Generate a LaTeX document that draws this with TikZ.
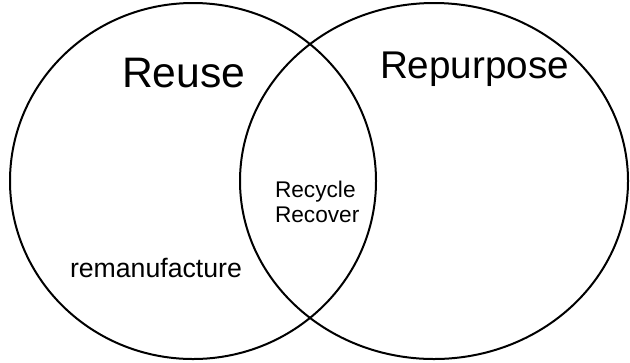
\documentclass[tikz,border=0pt]{standalone}
\usepackage{fontspec}
\setmainfont{Liberation Sans}
\tikzset{every picture/.style={line width=1.5pt}}
\tikzset{set label/.style={anchor=base west,inner sep=0pt}}

\begin{document}
\begin{tikzpicture}[x=0.75pt,y=0.75pt,yscale=-1,xscale=1]
		\useasboundingbox (0,0) rectangle (630,362);
		\clip (0,0) rectangle (630,362);
		
		%Shape: Ellipse [left set]
		\draw   (193,181) ellipse (183 and 178) ;
		%Shape: Ellipse [right set]
		\draw   (434,181) ellipse (194 and 178) ;
		
		\node [set label,font=\fontsize{32}{38}\selectfont] (reuse) at (121,87) {Reuse};
		\node [set label,font=\fontsize{29}{35}\selectfont] (repurpose) at (379,78) {Repurpose};
		\node [set label,font=\fontsize{17}{20}\selectfont] (recycle) at (274,197) {Recycle};
		\node [set label,font=\fontsize{17}{20}\selectfont] (recover) at (274,222) {Recover};
		\node [set label,font=\fontsize{20}{24}\selectfont] (reman) at (69,277) {remanufacture};
		
\end{tikzpicture}
\end{document}
